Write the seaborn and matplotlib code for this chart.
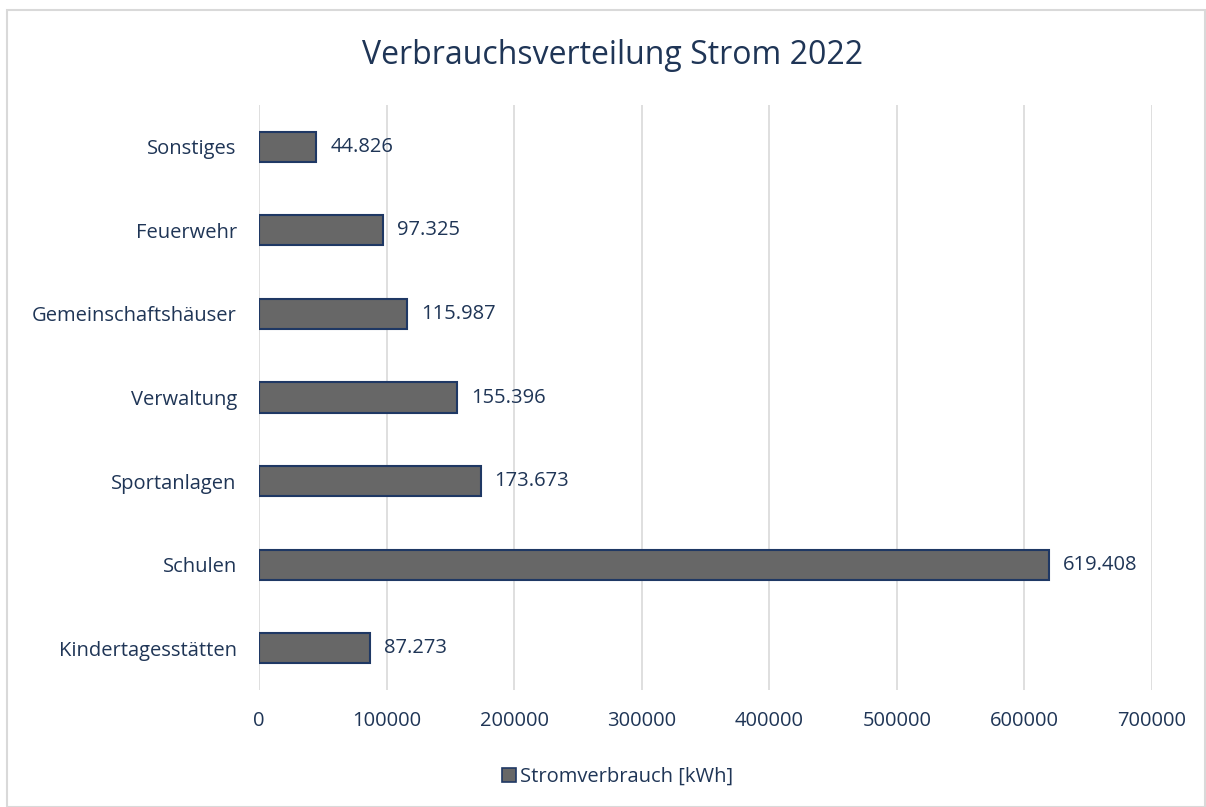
import matplotlib
matplotlib.use('Agg')
import matplotlib.pyplot as plt
import matplotlib.patches as mpatches
import pandas as pd
import seaborn as sns

# Stromverbrauch 2022 nach Gebäudegruppe
categories = ['Sonstiges', 'Feuerwehr', 'Gemeinschaftshäuser', 'Verwaltung',
              'Sportanlagen', 'Schulen', 'Kindertagesstätten']
values = [44826, 97325, 115987, 155396, 173673, 619408, 87273]
xticks = [0, 100000, 200000, 300000, 400000, 500000, 600000, 700000]

df = pd.DataFrame({'Kategorie': categories, 'kWh': values})

text_col = '#1f3556'
bar_col = '#676767'
edge_col = '#1f3864'

sns.set_style('white')
plt.rcParams['font.family'] = ['Open Sans', 'DejaVu Sans']

fig = plt.figure(figsize=(12.06, 8.07), dpi=100)
ax = fig.add_axes([259/1206, 1-690/807, (1152-259)/1206, (690-105)/807])

sns.barplot(data=df, x='kWh', y='Kategorie', orient='h', color=bar_col,
            edgecolor=edge_col, linewidth=1.5, width=0.36, saturation=1, ax=ax)

ax.set_xlim(0, 700000)
ax.set_xticks(xticks)
ax.set_xticklabels([str(t) for t in xticks], color=text_col, fontsize=14.5)
ax.tick_params(axis='y', labelcolor=text_col, labelsize=14.5, length=0, pad=16)
ax.tick_params(axis='x', length=0, pad=15)
ax.set_xlabel('')
ax.set_ylabel('')
ax.grid(axis='x', color='#d9d9d9', linewidth=1.2)
ax.set_axisbelow(True)
for s in ax.spines.values():
    s.set_visible(False)

for i, v in enumerate(values):
    lbl = f'{v:,}'.replace(',', '.')
    ax.text(v + 11000, i, lbl, va='center', ha='left', color=text_col, fontsize=14.5)

fig.text(0.508, 1-55/807, 'Verbrauchsverteilung Strom 2022', ha='center', va='center',
         fontsize=23, color=text_col)

handle = mpatches.Patch(facecolor=bar_col, edgecolor=edge_col, linewidth=1.2,
                        label='Stromverbrauch [kWh]')
fig.legend(handles=[handle], loc='center', bbox_to_anchor=(0.512, 1-777/807),
           frameon=False, fontsize=14.5, labelcolor=text_col, handlelength=0.7,
           handleheight=0.7, handletextpad=0.2)

fig.patches.append(mpatches.Rectangle((7/1206, 0), 1-7/1206 - 0.001, 1-10/807,
                                      transform=fig.transFigure, fill=False,
                                      edgecolor='#d9d9d9', linewidth=1.5))

fig.savefig('out.png', dpi=100, facecolor='white')
